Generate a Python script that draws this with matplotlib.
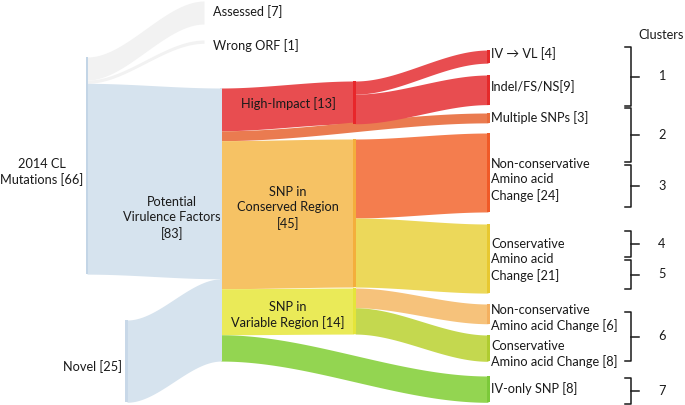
import numpy as np
import matplotlib.pyplot as plt

plt.rcParams['font.family'] = ['Lato', 'DejaVu Sans']

# data (counts)
cl_targets = ["Assessed", "Wrong ORF", "PVF"]
cl_values = [7, 1, 58]
novel_value = 25
pvf_targets = ["High", "Multi", "Cons", "Var", "IVonly"]
pvf_values = [13, 3, 45, 14, 8]
high_targets = ["IVVL", "Indel"]
high_values = [4, 9]
cons_targets = ["NC24", "C21"]
cons_values = [24, 21]
var_targets = ["NC6", "C8"]
var_values = [6, 8]

cluster_names = ["1", "2", "3", "4", "5", "6", "7"]
cluster_spans = [(47, 106), (108, 162), (165, 207), (231, 257), (260, 289), (312, 361), (378, 404)]

k = 3.29  # px per mutation

# node layout: x, width, top, bar colour
nodes = {
    "CL": (86, 2, 57, "#c3d5e6"),
    "Novel": (125, 3, 320, "#c8d8e8"),
    "Assessed": (203, 0, 1, "#f2f2f2"),
    "Wrong ORF": (203, 0, 40, "#f2f2f2"),
    "PVF": (220, 2, 88, "#d6e3ee"),
    "High": (353, 3, 81, "#e8262a"),
    "Cons": (353, 3, 139, "#f4ae3c"),
    "Var": (353, 3, 288, "#e5e53a"),
    "IVVL": (487, 3, 50, "#e52a2a"),
    "Indel": (487, 3, 75, "#e52a2a"),
    "Multi": (487, 3, 113, "#e96a3a"),
    "NC24": (487, 3, 133, "#f05a28"),
    "C21": (487, 3, 224, "#e8c830"),
    "NC6": (487, 3, 304, "#f4b060"),
    "C8": (487, 3, 335, "#b0cc30"),
    "IVonly": (487, 3, 376, "#7cc93a"),
}

flow_colors = {
    "Assessed": "#f2f2f2", "Wrong ORF": "#f2f2f2", "PVF": "#d6e3ee",
    "High": "#e84d50", "Multi": "#ea7b50", "Cons": "#f6c264", "Var": "#eaea58",
    "IVonly": "#93d551", "IVVL": "#e84d50", "Indel": "#e84d50",
    "NC24": "#f47d4e", "C21": "#ecd85a", "NC6": "#f6c27b", "C8": "#c4d84f",
}

flows = []
flows += [("CL", t, v) for t, v in zip(cl_targets, cl_values)]
flows.append(("Novel", "PVF", novel_value))
flows += [("PVF", t, v) for t, v in zip(pvf_targets, pvf_values)]
flows += [("High", t, v) for t, v in zip(high_targets, high_values)]
flows += [("Cons", t, v) for t, v in zip(cons_targets, cons_values)]
flows += [("Var", t, v) for t, v in zip(var_targets, var_values)]

fig = plt.figure(figsize=(6.85, 4.05), dpi=100)
ax = fig.add_axes([0, 0, 1, 1])
ax.set_xlim(0, 685)
ax.set_ylim(405, 0)
ax.axis('off')

src_off = {}
dst_off = {}


def band(x0, x1, a0, b0, a1, b1, color):
    x = np.linspace(x0, x1, 150)
    t = (x - x0) / (x1 - x0)
    s = t * t * (3 - 2 * t)
    ax.fill_between(x, a0 + (a1 - a0) * s, b0 + (b1 - b0) * s, color=color, lw=0, zorder=1)


for s, t, v in flows:
    h = v * k
    sx, sw = nodes[s][0], nodes[s][1]
    tx = nodes[t][0]
    y0 = nodes[s][2] + src_off.get(s, 0)
    y1 = nodes[t][2] + dst_off.get(t, 0)
    band(sx + max(sw - 1, 0), tx + 1, y0, y0 + h, y1, y1 + h, flow_colors[t])
    src_off[s] = src_off.get(s, 0) + h
    dst_off[t] = dst_off.get(t, 0) + h

for n, (x, w, top, c) in nodes.items():
    if w == 0:
        continue
    h = max(src_off.get(n, 0), dst_off.get(n, 0))
    ax.add_patch(plt.Rectangle((x, top), w, h, color=c, lw=0, zorder=2))

fs = 9.2
kw = dict(fontsize=fs, color="#1a1a1a", linespacing=1.35, zorder=3)

ax.text(213, 12, "Assessed [7]", va="center", ha="left", **kw)
ax.text(213, 46, "Wrong ORF [1]", va="center", ha="left", **kw)
ax.text(42, 172, "2014 CL\nMutations [66]", va="center", ha="center", **kw)
ax.text(172, 218, "Potential\nVirulence Factors\n[83]", va="center", ha="center", **kw)
ax.text(122, 367, "Novel [25]", va="center", ha="right", **kw)
ax.text(288, 104, "High-Impact [13]", va="center", ha="center", **kw)
ax.text(288, 208, "SNP in\nConserved Region\n[45]", va="center", ha="center", **kw)
ax.text(288, 315, "SNP in\nVariable Region [14]", va="center", ha="center", **kw)

right_labels = {
    "IVVL": ("IV \u2192 VL [4]", 54),
    "Indel": ("Indel/FS/NS[9]", 87),
    "Multi": ("Multiple SNPs [3]", 118),
    "NC24": ("Non-conservative\nAmino acid\nChange [24]", 180),
    "C21": ("Conservative\nAmino acid\nChange [21]", 260),
    "NC6": ("Non-conservative\nAmino acid Change [6]", 318),
    "C8": ("Conservative\nAmino acid Change [8]", 354),
    "IVonly": ("IV-only SNP [8]", 389),
}
for n, (lab, y) in right_labels.items():
    ax.text(491, y, lab, va="center", ha="left", **kw)

# cluster brackets
ax.text(661, 35, "Clusters", va="center", ha="center", **kw)
for name, (a, b) in zip(cluster_names, cluster_spans):
    xb = 631
    ax.plot([xb - 6, xb, xb, xb - 6], [a, a, b, b], color="#1a1a1a", lw=1.1, zorder=3)
    m = (a + b) / 2
    ax.plot([xb, xb + 8], [m, m], color="#1a1a1a", lw=1.1, zorder=3)
    ax.text(662, m, name, va="center", ha="center", **kw)

fig.savefig("out.png", dpi=100)
